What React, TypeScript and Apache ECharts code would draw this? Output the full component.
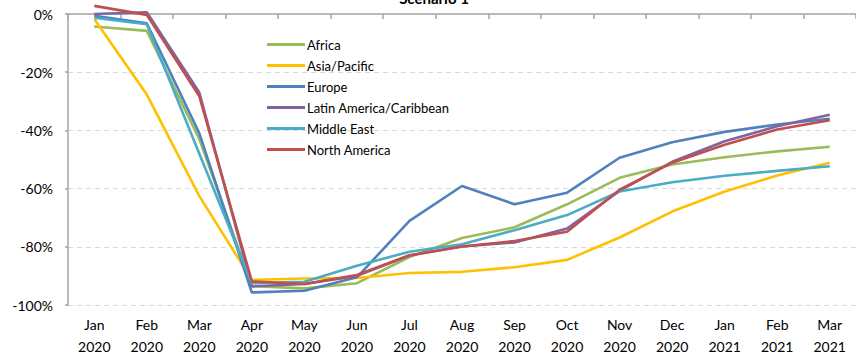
import React, { useEffect, useRef } from "react";
import * as echarts from "echarts";

const months = ["Jan", "Feb", "Mar", "Apr", "May", "Jun", "Jul", "Aug", "Sep", "Oct", "Nov", "Dec", "Jan", "Feb", "Mar"];
const years = ["2020", "2020", "2020", "2020", "2020", "2020", "2020", "2020", "2020", "2020", "2020", "2020", "2021", "2021", "2021"];
const categories = months.map((m, i) => `${m}\n${years[i]}`);

const seriesNames = ["Africa", "Asia/Pacific", "Europe", "Latin America/Caribbean", "Middle East", "North America"];
const seriesColors = ["#9BBB59", "#FFC000", "#4F81BD", "#8064A2", "#4BACC6", "#C0504D"];

const africa = [-4.3, -5.8, -43, -93.5, -94.3, -92.5, -83.5, -77, -73.3, -65.4, -56.3, -51.7, -49.2, -47.2, -45.6];
const asiaPacific = [-1.7, -27.7, -62.6, -91.4, -90.9, -90.7, -89, -88.6, -87, -84.5, -76.8, -67.9, -61, -55.5, -51.1];
const europe = [-0.6, -3.2, -41, -95.7, -95.1, -90.5, -71.1, -59.1, -65.4, -61.4, -49.4, -44.1, -40.5, -38, -36];
const latinAmerica = [0, 0.6, -27, -93.6, -92.8, -90, -83, -79.9, -78.5, -73.7, -60.8, -50.8, -43.7, -38.6, -34.6];
const middleEast = [-1.3, -3.5, -48, -92.5, -92, -86.5, -81.7, -79.1, -74.3, -69.1, -61, -57.8, -55.6, -53.9, -52.3];
const northAmerica = [2.8, -0.3, -28.3, -91.9, -92.8, -89.7, -82.9, -79.9, -78, -74.8, -60.4, -51.1, -44.9, -39.7, -36.5];

const seriesData = [africa, asiaPacific, europe, latinAmerica, middleEast, northAmerica];

const yTicks = { min: -100, max: 0, interval: 20 };
const titleText = "Scenario 1";

const FONT = "Lato, 'Open Sans', sans-serif";

export default function App() {
  const ref = useRef<HTMLDivElement>(null);
  useEffect(() => {
    if (!ref.current) return;
    const chart = echarts.init(ref.current, undefined, { renderer: "svg" });
    chart.setOption({
      animation: false,
      backgroundColor: "#ffffff",
      textStyle: { fontFamily: FONT },
      graphic: [
        {
          type: "text",
          x: 434,
          y: -10,
          style: {
            text: titleText,
            font: `bold 15px ${FONT}`,
            fill: "#000",
            textAlign: "center",
            textVerticalAlign: "top",
          },
        },
      ],
      legend: {
        orient: "vertical",
        left: 262,
        top: 29,
        icon: "rect",
        itemWidth: 38,
        itemHeight: 3,
        itemGap: 0,
        data: seriesNames,
        textStyle: { fontFamily: FONT, fontSize: 13, color: "#000", lineHeight: 21, padding: [0, 0, 0, -3] },
      },
      grid: { left: 68, top: 14, width: 789, height: 298 },
      xAxis: [
        {
          type: "category",
          position: "top",
          data: categories,
          boundaryGap: true,
          axisLine: { show: true, lineStyle: { color: "#a6a6a6", width: 1.5 } },
          axisTick: { show: true, inside: true, length: 5, lineStyle: { color: "#a6a6a6", width: 1.5 } },
          axisLabel: { show: false },
          splitLine: { show: false },
        },
        {
          type: "category",
          position: "bottom",
          data: categories,
          boundaryGap: true,
          axisLine: { show: false },
          axisTick: { show: false },
          axisLabel: { show: true, margin: 8, fontFamily: FONT, fontSize: 14, lineHeight: 22, color: "#000", interval: 0 },
          splitLine: { show: false },
        },
      ],
      yAxis: {
        type: "value",
        min: yTicks.min,
        max: yTicks.max,
        interval: yTicks.interval,
        axisLine: { show: true, lineStyle: { color: "#a6a6a6", width: 1.5 } },
        axisTick: { show: true, length: 3, lineStyle: { color: "#a6a6a6", width: 1.5 } },
        axisLabel: { formatter: (v: number) => `${v}%`, margin: 15, fontFamily: FONT, fontSize: 14, color: "#000" },
        splitLine: { show: true, lineStyle: { color: "#d9d9d9", width: 1, type: [5, 4] } },
      },
      series: seriesNames.map((name, i) => ({
        name,
        type: "line",
        xAxisIndex: 0,
        data: seriesData[i],
        symbol: "none",
        clip: false,
        color: seriesColors[i],
        lineStyle: { width: 2.6, color: seriesColors[i] },
      })),
    });
    return () => chart.dispose();
  }, []);
  return <div ref={ref} style={{ position: "fixed", left: 0, top: 0, width: 856, height: 357 }} />;
}
